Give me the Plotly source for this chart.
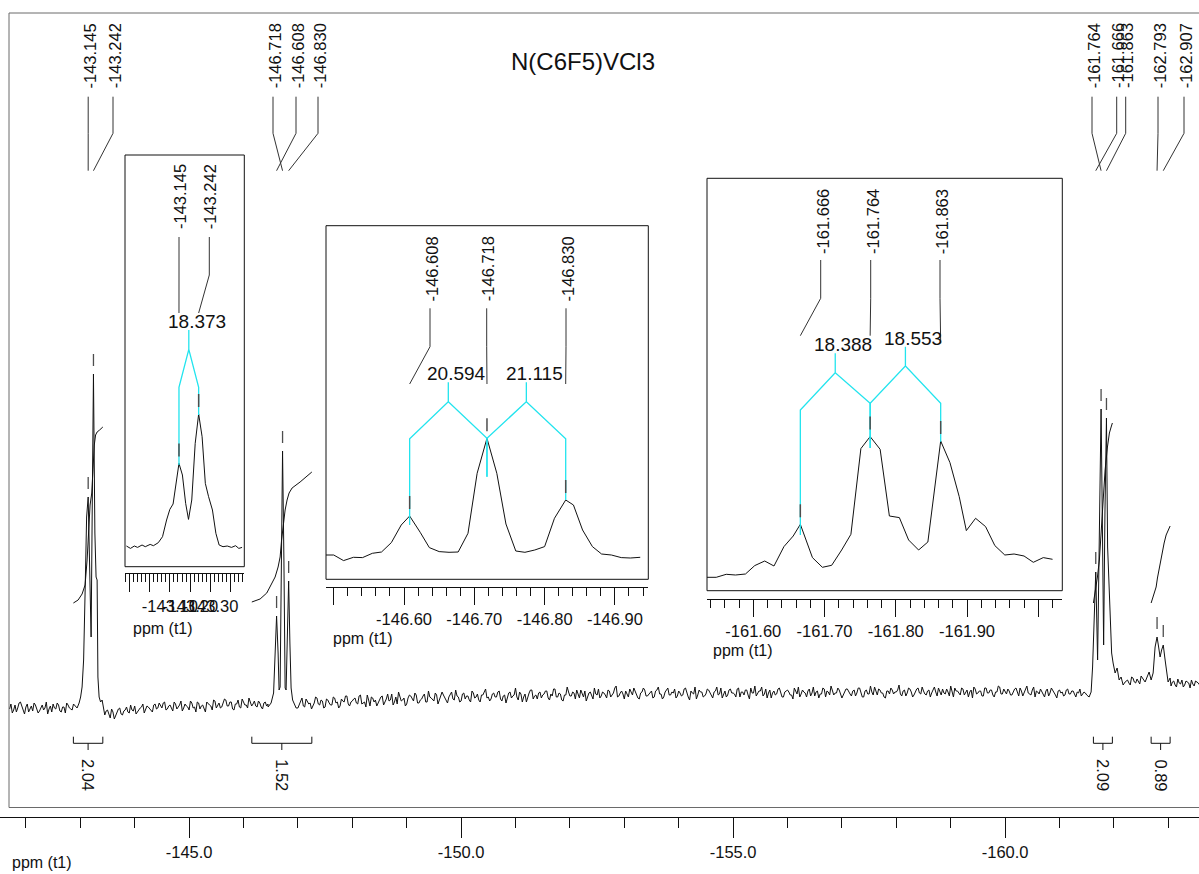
import plotly.graph_objects as go

W, H = 1199, 874
FONT = "Arial, 'Liberation Sans', Helvetica, sans-serif"
INK = "#111111"
FRAME = "#6a6a6a"
CYAN = "#22e4ee"
PICK = "#4d4d4d"

# ---------------------------------------------------------------------------
# 19F spectrum of N(C6F5)VCl3
# ---------------------------------------------------------------------------
TITLE = "N(C6F5)VCl3"

# baseline of the full trace, sampled every 0.025 ppm: "base_*" on the 0.05 ppm grid,
# "mid_*" on the points half way between; one pair of lists per gap between signals
BASE_STEP = 0.05
base_start = [-141.70, -143.45, -147.00, -162.25, -163.05]
base_1 = [-9, -13, -5, -8, -2, -10, -7, -12, -6, -3, -9, -11, -5, -8, -14, -6, -4,
          -9, -5, -12, -7, -3, -8, -10, -6]
mid_1 = [-4, -10, -12, -3, -7, -14, -4, -9, -11, -5, -13, -7, -10, -2, -9, -12, -8, -3,
         -11, -7, -13, -5, -9, -4]
base_2 = [-15, -10,
          -18, -12, -16, -9, -14, -11, -7, -13, -10, -6, -12, -8, -4, -10, -7, -11, -5, -9, -3, -8,
          -2, -9, -5, -11, -4, -7, -1, -8, -6, -10, -3, -7, -2, -9, -5, -12, -4, -6, 0, -8,
          -3, -7, 1, -6, -2, -9, -4, 0, -8, -3, -5, 2, -6, -1, -7, -3, -9, -2, -4]
mid_2 = [-11, -14, -9, -19, -13, -8, -15, -10, -12, -5, -11, -14, -9, -7, -13, -6, -9, -12, -4, -8,
         -6, -3, -10, -6, -8, -2, -9, -5, -11, -4, -7, -1, -8, -12, -3, -6, -9, -2, -5, -10,
         -1, -5, -8, -3, 0, -6, -2, -10, -4, -7, 1, -5, -8, -2, -4, -6, -1, -7, -3, -6]
base_3 = [-8, -2, -6, 1, -4, -9, -3, 2, -5, -1, -7,
          0, -5, 3, -3, -8, 1, -2, 4, -6, -1, 2, -4, 5, -3, -7, 0, 3, -2, -6, 1,
          4, -2, 6, 0, -5, 3, 8, -1, 2, -4, 5, 1, 7, -3, 0, 4, -2, 9, 2, -1,
          5, 0, 8, 2, -3, 6, 1, 10, 3, -1, 7, 4, 0, 9, 2, 6, -2, 5, 11, 3,
          1, 7, 3, 9, -1, 5, 2, 8, 4, 12, 0, 6, 3, -2, 7, 10, 4, 1, 8, 5,
          9, 2, 6, 11, 3, 7, 0, 5, 13, 4, 8, 1, 6, 10, 3, -1, 7, 4, 12, 5,
          2, 8, 5, 10, 3, 7, 14, 4, 9, 1, 6, 11, 5, 8, 2, 7, 12, 4, 6, 9,
          3, 10, 6, 1, 8, 12, 5, 7, 2, 9, 4, 11, 6, 0, 7, 13, 5, 8, 3, 6,
          10, 4, 8, 13, 6, 2, 9, 5, 11, 7, 3, 12, 8, 5, 10, 1, 7, 14, 6, 9,
          4, 11, 7, 2, 9, 6, 12, 3, 8, 10, 5, 1, 9, 13, 6, 8, 3, 11, 7, 4,
          9, 6, 12, 3, 8, 14, 5, 7, 10, 2, 8, 11, 6, 9, 4, 12, 7, 3, 10, 6,
          8, 13, 5, 10, 7, 2, 9, 12, 6, 8, 15, 4, 10, 7, 11, 3, 8, 12, 6, 9,
          5, 10, 7, 13, 4, 9, 11, 6, 8, 14, 3, 9, 7, 12, 5, 10, 8, 2, 11, 7,
          9, 4, 12, 7, 10, 3, 8, 13, 6, 9, 11, 5, 8, 12, 4, 9, 7, 14, 6, 10,
          3, 8, 11, 6, 9, 4, 12, 7, 2, 10, 8, 5, 11, 6, 9, 3, 7, 4, 8, 5]
mid_3 = [-4, 2, -7, -1, -3, -6, 3, -4, 0, -8, 1, -3, -5, 2, -2, -6, -1, 4, -4, -2,
         1, -3, 4, -4, -2, 5, -6, 2, 0, -3, 3, -5, 1, -1, 6, -2, -4, 3, 0, -6,
         2, 4, -1, 5, -3, 1, 6, -2, 3, 0, 7, -4, 2, 5, -1, 3, 8, 0, 4, -2,
         6, 1, 4, -2, 7, 3, 0, 5, 9, 2, -1, 6, 3, 8, 1, 4, -3, 7, 2, 5,
         3, 8, -2, 6, 4, 10, 1, 5, 7, 2, 6, 9, 0, 4, 11, 3, 6, -1, 5, 8,
         4, 7, 10, 2, 6, 9, 3, 8, 1, 6, 11, 4, 7, 2, 9, 5, 12, 3, 7, 6,
         9, 3, 7, 12, 5, 1, 8, 10, 4, 7, 2, 9, 13, 6, 3, 10, 5, 8, 11, 4,
         7, 5, 12, 3, 9, 6, 1, 10, 8, 4, 11, 7, 2, 9, 5, 12, 6, 3, 10, 7,
         6, 11, 3, 8, 10, 5, 12, 7, 4, 9, 13, 6, 2, 10, 7, 5, 11, 8, 3, 9,
         8, 5, 12, 6, 3, 10, 7, 9, 4, 13, 8, 2, 6, 11, 9, 5, 10, 7, 12, 6,
         5, 11, 8, 4, 10, 7, 12, 3, 9, 6, 14, 5, 8, 11, 7, 3, 9, 6, 10, 8,
         10, 6, 9, 4, 12, 8, 5, 11, 7, 13, 6, 9, 3, 10, 8, 12, 5, 7, 11, 4,
         7, 12, 9, 5, 11, 8, 3, 10, 13, 6, 9, 4, 12, 7, 10, 5, 8, 14, 6, 11,
         6, 9, 5, 11, 8, 12, 4, 10, 7, 5, 13, 9, 6, 8, 3, 11, 7, 10, 5, 9,
         7, 4, 10, 6, 9, 5, 8, 11, 6, 7]
base_4 = [20, 15, 22, 17, 19, 24, 21]
mid_4 = [17, 23, 18, 21, 16, 22]
base_5 = [14, 19, 13, 17, 20, 15, 18, 12, 16, 19, 17, 15, 19, 14]
mid_5 = [18, 15, 21, 16, 13, 19, 17, 20, 14, 18, 15, 21, 16]
base_lists = [base_1, base_2, base_3, base_4, base_5]
mid_lists = [mid_1, mid_2, mid_3, mid_4, mid_5]

# signal regions of the full trace (ppm, intensity)
sigA_ppm = [-142.941, -142.978, -143.006, -143.033, -143.061, -143.088, -143.116, -143.145,
            -143.171, -143.199, -143.222, -143.242, -143.268, -143.290, -143.309, -143.324,
            -143.346, -143.373, -143.401]
sigA_int = [-8, -3, 3, 13, 40, 107, 183, 203, 123, 63, 207, 326, 167, 123, 120, 23, 3, -2, 0]
sigB_ppm = [-146.452, -146.507, -146.553, -146.581, -146.608, -146.636, -146.654, -146.673,
            -146.695, -146.718, -146.743, -146.765, -146.783, -146.807, -146.830, -146.853,
            -146.875, -146.903, -146.930, -146.967]
sigB_int = [-7, -3, 7, 47, 84, 47, 10, 13, 140, 249, 140, 12, 10, 73, 119, 57, 12, 0, -3, -8]
sigC_ppm = [-161.544, -161.581, -161.608, -161.627, -161.645, -161.666, -161.700, -161.737,
            -161.764, -161.789, -161.811, -161.835, -161.863, -161.884, -161.908, -161.930,
            -161.958, -161.985, -162.022, -162.059, -162.096, -162.132, -162.169, -162.206]
sigC_int = [3, 8, 33, 60, 100, 128, 40, 187, 291, 170, 55, 187, 282, 153, 120, 90, 47, 37,
            27, 32, 20, 23, 15, 18]
sigD_ppm = [-162.574, -162.610, -162.647, -162.684, -162.721, -162.757, -162.793, -162.822,
            -162.849, -162.877, -162.907, -162.941, -162.969, -162.996, -163.033]
sigD_int = [18, 23, 28, 20, 27, 53, 63, 53, 43, 50, 55, 40, 27, 18, 22]

# peak labels across the top of the full trace, in the order they are printed
main_labels = ["-143.145", "-143.242", "-146.718", "-146.608", "-146.830",
               "-161.764", "-161.666", "-161.863", "-162.793", "-162.907"]

# integral curves (ppm, running integral) and their normalised values
intA_ppm = [-142.873, -142.960, -143.033, -143.088, -143.125, -143.153, -143.180, -143.211,
            -143.235, -143.257, -143.281, -143.309, -143.355, -143.414]
intA_val = [97, 100, 106, 115, 140, 170, 195, 207, 235, 255, 265, 268, 270, 273]
intB_ppm = [-146.153, -146.305, -146.428, -146.526, -146.581, -146.636, -146.673, -146.700,
            -146.728, -146.765, -146.801, -146.838, -146.893, -147.040, -147.256]
intB_val = [98, 101, 107, 117, 123, 133, 143, 160, 175, 190, 200, 207, 212, 218, 228]
intC_ppm = [-161.623, -161.654, -161.697, -161.733, -161.765, -161.796, -161.838, -161.881,
            -161.917, -161.949, -161.972]
intC_val = [97, 107, 123, 140, 167, 203, 230, 253, 267, 273, 277]
intD_ppm = [-162.684, -162.739, -162.776, -162.800, -162.836, -162.880, -162.923, -162.960,
            -163.002, -163.033]
intD_val = [97, 107, 113, 122, 133, 147, 157, 165, 171, 174]
integral_labels = ["2.04", "1.52", "2.09", "0.89"]

# expanded multiplets
in1_ppm = [-142.886, -142.906, -142.925, -142.941, -142.963, -142.979, -143.003, -143.019,
           -143.043, -143.064, -143.084, -143.100, -143.116, -143.129, -143.145, -143.162,
           -143.178, -143.192, -143.208, -143.225, -143.242, -143.259, -143.275, -143.291,
           -143.310, -143.327, -143.343, -143.362, -143.383, -143.404, -143.424, -143.440,
           -143.456]
in1_int = [0.7, -1.7, 0.7, -0.7, 1.7, 0, 2.3, 1, 4, 10, 26.7, 37.3, 42.7, 63.3, 83.3, 71.7,
           43.3, 27.3, 46.7, 103.3, 132.7, 110, 63.3, 50, 36.7, 13.3, 1.7, 0, 0.7, -0.7, 1,
           -1.7, -0.7]
in1_labels = ["-143.145", "-143.242"]
in1_couplings = [("18.373", -143.145, -143.242)]

in2_ppm = [-146.487, -146.500, -146.514, -146.528, -146.541, -146.555, -146.568, -146.582,
           -146.596, -146.608, -146.623, -146.636, -146.650, -146.664, -146.677, -146.691,
           -146.704, -146.718, -146.732, -146.745, -146.759, -146.772, -146.786, -146.800,
           -146.814, -146.830, -146.841, -146.854, -146.868, -146.881, -146.895, -146.909,
           -146.922, -146.936]
in2_int = [-1.7, -1.7, -7.3, -4, -4.3, 0, 1.3, 10.7, 28.3, 37.3, 21, 5.7, 1.7, 1, 1.3, 20,
           80, 115, 80, 29.3, 2.3, 1, 3.3, 6.7, 35, 53.3, 48.3, 23.3, 6.7, -0.7, -1.7, -4.3,
           -4.7, -4]
in2_labels = ["-146.608", "-146.718", "-146.830"]
in2_couplings = [("20.594", -146.608, -146.718), ("21.115", -146.718, -146.830)]

in3_ppm = [-161.535, -161.548, -161.562, -161.575, -161.589, -161.602, -161.616, -161.629,
           -161.643, -161.656, -161.666, -161.683, -161.697, -161.710, -161.724, -161.737,
           -161.751, -161.764, -161.778, -161.791, -161.805, -161.818, -161.832, -161.845,
           -161.863, -161.876, -161.889, -161.899, -161.912, -161.926, -161.939, -161.953,
           -161.966, -161.980, -161.993, -162.007, -162.020]
in3_int = [0, 0, 3, 2.3, 3.3, 11.7, 16.3, 11.3, 30.7, 41.3, 53, 19.7, 10, 12, 27.3, 43,
           128.7, 140.7, 128, 61.3, 59.7, 37.3, 27.3, 35.3, 136.3, 114.7, 80.7, 46.7, 59,
           50.7, 31.7, 22.3, 23.3, 21.3, 15, 19.7, 18]
in3_labels = ["-161.666", "-161.764", "-161.863"]
in3_couplings = [("18.388", -161.666, -161.764), ("18.553", -161.764, -161.863)]

# axis tick labels
main_tickvals = [-145, -150, -155, -160]
main_ticktext = ["-145.0", "-150.0", "-155.0", "-160.0"]
in1_tickvals = [-142.9, -143.0, -143.1, -143.2, -143.3, -143.4]
in1_ticktext = ["", "", "-143.10", "-143.20", "-143.30", ""]
in2_tickvals = [-146.5, -146.6, -146.7, -146.8, -146.9]
in2_ticktext = ["", "-146.60", "-146.70", "-146.80", "-146.90"]
in3_tickvals = [-161.6, -161.7, -161.8, -161.9, -162.0]
in3_ticktext = ["-161.60", "-161.70", "-161.80", "-161.90", ""]
AXIS_TITLE = "ppm (t1)"

# ---------------------------------------------------------------------------
# panel geometry (pixel boxes; intensity units are pixels above each baseline)
# ---------------------------------------------------------------------------
MAIN = dict(name="", x_px=(0, W), x_range=(-141.524, -163.564), y_px=(817, 13), base=700)
IN1 = dict(name="2", x_px=(125, 244.3), x_range=(-142.879, -143.467), y_px=(573.3, 155),
           base=546.7, frame=(125, 155, 244.3, 566.7))
IN2 = dict(name="3", x_px=(326, 648.3), x_range=(-146.489, -146.9475), y_px=(586.7, 225.7),
           base=553.3, frame=(326, 225.7, 648.3, 579.3))
IN3 = dict(name="4", x_px=(707, 1062.3), x_range=(-161.535, -162.0337), y_px=(599, 178.3),
           base=577.3, frame=(707, 178.3, 1062.3, 590.7))


def xp(px):
    return px / W


def yp(py):
    return 1 - py / H


def slot(ax, px):
    """data x of a horizontal pixel position inside a panel"""
    p0, p1 = ax["x_px"]
    r0, r1 = ax["x_range"]
    return r0 + (px - p0) / (p1 - p0) * (r1 - r0)


def refs(ax):
    return "x" + ax["name"], "y" + ax["name"]


fig = go.Figure()
shapes = []
annotations = []


def seg(xref, yref, x0, y0, x1, y1, color=INK, width=1):
    shapes.append(dict(type="line", xref=xref, yref=yref, x0=x0, y0=y0, x1=x1, y1=y1,
                       line=dict(color=color, width=width), layer="above"))


def text(x, y, s, size, xref="paper", yref="paper", angle=0, xanchor="center",
         yanchor="middle", xshift=0, yshift=0):
    annotations.append(dict(x=x, y=y, xref=xref, yref=yref, text=s, showarrow=False,
                            textangle=angle, xanchor=xanchor, yanchor=yanchor,
                            xshift=xshift, yshift=yshift,
                            font=dict(family=FONT, size=size, color=INK)))


# ---- full trace --------------------------------------------------------------
points = []
for start, vals, mids in zip(base_start, base_lists, mid_lists):
    for i, v in enumerate(vals):
        points.append((start - i * BASE_STEP, v))
    for i, v in enumerate(mids):
        points.append((start - (i + 0.5) * BASE_STEP, v))
for pp, ii in ((sigA_ppm, sigA_int), (sigB_ppm, sigB_int), (sigC_ppm, sigC_int),
               (sigD_ppm, sigD_int)):
    points.extend(zip(pp, ii))
points.sort(key=lambda t: -t[0])
fig.add_trace(go.Scatter(x=[p[0] for p in points], y=[p[1] for p in points], mode="lines",
                         line=dict(color=INK, width=1), hoverinfo="skip"))

main_height = {}
for pp, ii in ((sigA_ppm, sigA_int), (sigB_ppm, sigB_int), (sigC_ppm, sigC_int),
               (sigD_ppm, sigD_int)):
    main_height.update(dict(zip(pp, ii)))

# integral curves and brackets
for (ip, iv), lab in zip(((intA_ppm, intA_val), (intB_ppm, intB_val), (intC_ppm, intC_val),
                          (intD_ppm, intD_val)), integral_labels):
    fig.add_trace(go.Scatter(x=ip, y=iv, mode="lines", line=dict(color=INK, width=1),
                             hoverinfo="skip"))
    a, b = ip[0], ip[-1]
    c = (a + b) / 2
    seg("x", "paper", a, yp(736.7), a, yp(743.3))
    seg("x", "paper", b, yp(736.7), b, yp(743.3))
    seg("x", "paper", a, yp(743.3), b, yp(743.3))
    seg("x", "paper", c, yp(743.3), c, yp(750))
    text(c, yp(775), lab, 16.5, xref="x", angle=90)

# peak picks on the full trace
for ppm, h in main_height.items():
    if f"{ppm:.3f}" in main_labels:
        seg("x", "y", ppm, h + 8, ppm, h + 20, color=PICK, width=1.3)

# peak labels with leader lines
main_slots_px = [88.2, 113, 273, 296, 318, 1092, 1116.7, 1125.7, 1158, 1184]
for lab, spx in zip(main_labels, main_slots_px):
    sx = slot(MAIN, spx)
    pk = float(lab)
    text(sx, yp(55.8), lab, 16.5, xref="x", angle=-90, xshift=1.5)
    seg("x", "paper", sx, yp(96.7), sx, yp(133.3), color="#333333")
    seg("x", "paper", sx, yp(133.3), pk, yp(170.7), color="#333333")

# ---- expanded multiplets -------------------------------------------------------
insets = [
    dict(ax=IN1, x=in1_ppm, y=in1_int, labels=in1_labels, couplings=in1_couplings,
         slots=[179.0, 209.3], label_py=196.5, lead=(237, 275), lead_end=[313, 313],
         leg_bottom={-143.145: 81.7, -143.242: 131.7}, leg_top=[(159.4, 159.4)],
         apex=[197.4], stem=[216.7], tv=in1_tickvals, tt=in1_ticktext, tick0=-143.0,
         major=18, minor=8, title_at=(131, 628)),
    dict(ax=IN2, x=in2_ppm, y=in2_int, labels=in2_labels, couplings=in2_couplings,
         slots=[430, 486.7, 566], label_py=269, lead=(308.3, 346.7), lead_end=[384, 384, 384],
         leg_bottom={-146.608: 28.3, -146.718: 76.6, -146.830: 53.3},
         leg_top=[(114.5, 115), (115, 114.5)], apex=[151.6, 151.6], stem=[171, 171],
         tv=in2_tickvals, tt=in2_ticktext, tick0=-146.5, major=17, minor=8,
         title_at=(331, 638)),
    dict(ax=IN3, x=in3_ppm, y=in3_int, labels=in3_labels, couplings=in3_couplings,
         slots=[820.7, 870.7, 940], label_py=221.7, lead=(260, 298.3),
         lead_end=[335.7, 335.7, 343.3],
         leg_bottom={-161.666: 42.3, -161.764: 129.3, -161.863: 135.6},
         leg_top=[(167.3, 174), (174, 174)], apex=[204.6, 211.3], stem=[224, 230.6],
         tv=in3_tickvals, tt=in3_ticktext, tick0=-161.6, major=17, minor=8,
         title_at=(711, 650)),
]

for ins in insets:
    ax = ins["ax"]
    xr, yr = refs(ax)
    fig.add_trace(go.Scatter(x=ins["x"], y=ins["y"], xaxis=xr, yaxis=yr, mode="lines",
                             line=dict(color=INK, width=1), hoverinfo="skip"))
    heights = dict(zip(ins["x"], ins["y"]))

    # coupling trees
    for k, (jtxt, a, b) in enumerate(ins["couplings"]):
        mid = (a + b) / 2
        ta, tb = ins["leg_top"][k]
        fig.add_trace(go.Scatter(
            x=[a, a, mid, mid, mid, b, b],
            y=[ins["leg_bottom"][a], ta, ins["apex"][k], ins["stem"][k], ins["apex"][k], tb,
               ins["leg_bottom"][b]],
            xaxis=xr, yaxis=yr, mode="lines", line=dict(color=CYAN, width=1.3),
            hoverinfo="skip"))
        text(mid, ins["stem"][k], jtxt, 19, xref=xr, yref=yr, yanchor="bottom",
             xshift=8, yshift=-4)

    # peak picks, labels and leaders
    for lab, spx, end in zip(ins["labels"], ins["slots"], ins["lead_end"]):
        pk = float(lab)
        h = heights[pk]
        seg(xr, yr, pk, h + 7, pk, h + 20, color=PICK, width=1.5)
        sx = slot(ax, spx)
        text(sx, yp(ins["label_py"]), lab, 16.5, xref=xr, angle=-90, xshift=1.5)
        seg(xr, "paper", sx, yp(ins["lead"][0]), sx, yp(ins["lead"][1]), color="#333333")
        seg(xr, "paper", sx, yp(ins["lead"][1]), pk, yp(end), color="#333333")

    fx0, fy0, fx1, fy1 = ax["frame"]
    shapes.append(dict(type="rect", xref="paper", yref="paper", x0=xp(fx0), x1=xp(fx1),
                       y0=yp(fy1), y1=yp(fy0), line=dict(color=INK, width=1),
                       fillcolor="rgba(0,0,0,0)", layer="above"))
    tx, ty = ins["title_at"]
    text(xp(tx), yp(ty), AXIS_TITLE, 16, xanchor="left")

# main frame, title, axis title
shapes.append(dict(type="rect", xref="paper", yref="paper", x0=xp(9), x1=1.02,
                   y0=yp(807.5), y1=yp(13), line=dict(color=FRAME, width=1),
                   fillcolor="rgba(0,0,0,0)", layer="above"))
text(xp(583), yp(61), TITLE, 24)
text(xp(10), yp(862), AXIS_TITLE, 16, xanchor="left")


def xaxis_cfg(ax, tv, tt, tick0, mdtick, major, minor):
    return dict(domain=[ax["x_px"][0] / W, ax["x_px"][1] / W], range=list(ax["x_range"]),
                anchor="y" + ax["name"], tickmode="array", tickvals=tv, ticktext=tt,
                ticks="outside", ticklen=major, tickwidth=1, tickcolor=INK, tickangle=0,
                minor=dict(tickmode="linear", tick0=tick0, dtick=mdtick, ticks="outside",
                           ticklen=minor, tickwidth=1, tickcolor=INK, showgrid=False),
                showline=True, linecolor=INK, linewidth=1, showgrid=False, zeroline=False,
                tickfont=dict(family=FONT, size=16.5, color=INK), fixedrange=True)


def yaxis_cfg(ax):
    b, t = ax["y_px"]
    return dict(domain=[yp(b), yp(t)], range=[ax["base"] - b, ax["base"] - t],
                anchor="x" + ax["name"], visible=False, fixedrange=True)


layout = dict(
    width=W, height=H, margin=dict(l=0, r=0, t=0, b=0, pad=0),
    paper_bgcolor="white", plot_bgcolor="rgba(0,0,0,0)", showlegend=False,
    hovermode=False, shapes=shapes, annotations=annotations,
    xaxis=xaxis_cfg(MAIN, main_tickvals, main_ticktext, -145, 1, 20, 10),
    yaxis=yaxis_cfg(MAIN),
)
for ins in insets:
    n = ins["ax"]["name"]
    layout["xaxis" + n] = xaxis_cfg(ins["ax"], ins["tv"], ins["tt"], ins["tick0"], 0.02,
                                    ins["major"], ins["minor"])
    layout["yaxis" + n] = yaxis_cfg(ins["ax"])

fig.update_layout(**layout)
fig.write_html("out.html")
